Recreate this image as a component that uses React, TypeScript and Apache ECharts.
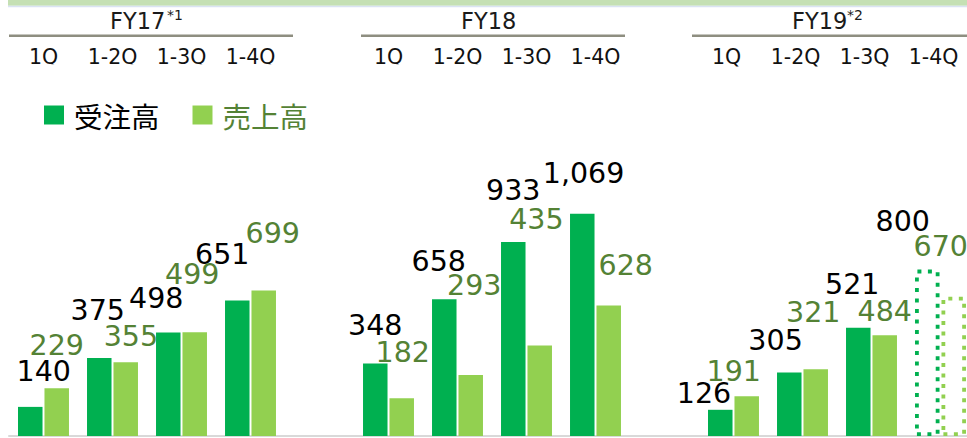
import React, { useEffect, useRef } from 'react';
import * as echarts from 'echarts';

// ---- data ----
const fiscalYears = ['FY17', 'FY18', 'FY19'];
const yearNotes = ['*1', '', '*2'];
const quarters = ['1Q', '1-2Q', '1-3Q', '1-4Q'];
const seriesNames = ['受注高', '売上高'];

const ordersFY17 = [140, 375, 498, 651];
const ordersFY18 = [348, 658, 933, 1069];
const ordersFY19 = [126, 305, 521, 800];
const salesFY17 = [229, 355, 499, 699];
const salesFY18 = [182, 293, 435, 628];
const salesFY19 = [191, 321, 484, 670];
// FY19 1-4Q values are forecasts (drawn dotted)
const forecastYearIndex = 2;
const forecastQuarterIndex = 3;

// ---- label placement (style only) ----
const orderLabelDx = [[13.5, -1.5, -12, -15], [0, -5.5, 0, 1.3], [-16.3, -13.7, -6, -24.5]];
const orderLabelRise = [[35.7, 48, 34.2, 46.3], [38.3, 37.2, 51, 40], [16, 31.7, 43.5, 48]];
const salesLabelDx = [[0, 5.2, -2.5, 9], [1, 3.5, -3.3, 17], [-13, -2.5, 0, -13]];
const salesLabelRise = [[43, 26, 57.7, 57], [45.7, 89.5, 126.3, 40.3], [24.5, 56.3, 23.7, 50.6]];

const DARK = '#00b050';
const LIGHT = '#92d050';
const OLIVE = '#548235';
const NUM_FONT = 'DejaVu Sans';
const LABEL_LH = 28;

function buildCategories() {
  const cats: string[] = [];
  fiscalYears.forEach((_, y) => {
    quarters.forEach((q) => cats.push(q));
    if (y < fiscalYears.length - 1) cats.push('');
  });
  return cats;
}

function buildTopCategories() {
  const cats: any[] = [];
  fiscalYears.forEach((_, y) => {
    quarters.forEach((q) => {
      if (y === 2) cats.push({ value: q, textStyle: { padding: [0, 14, 0, 0] } });
      else cats.push(q);
    });
    if (y < fiscalYears.length - 1) cats.push('');
  });
  return cats;
}

function buildSeriesData(
  years: number[][],
  dx: number[][],
  rise: number[][],
  color: string,
) {
  const out: any[] = [];
  years.forEach((vals, y) => {
    vals.forEach((v, q) => {
      const item: any = {
        value: v,
        label: { offset: [dx[y][q], -(rise[y][q] - LABEL_LH / 2)] },
      };
      if (y === forecastYearIndex && q === forecastQuarterIndex) {
        item.itemStyle = {
          color: 'rgba(255,255,255,0)',
          borderColor: color,
          borderWidth: 3.8,
          borderType: [4, 6.5],
        };
      }
      out.push(item);
    });
    if (y < years.length - 1) out.push('-');
  });
  return out;
}

export default function App() {
  const ref = useRef<HTMLDivElement>(null);

  useEffect(() => {
    if (!ref.current) return;
    const chart = echarts.init(ref.current, undefined, { renderer: 'svg' });
    const categories = buildCategories();

    const headerTexts: any[] = [];
    const headerLeft = [110, 461, 792];
    const noteLeft = [167, 0, 847];
    fiscalYears.forEach((fy, i) => {
      headerTexts.push({
        type: 'text',
        x: headerLeft[i],
        y: 21,
        style: {
          text: fy,
          fill: '#1a1a1a',
          fontSize: 22.5,
          fontFamily: NUM_FONT,
          align: 'left',
          verticalAlign: 'middle',
        },
      });
      if (yearNotes[i]) {
        headerTexts.push({
          type: 'text',
          x: noteLeft[i],
          y: 15,
          style: {
            text: yearNotes[i],
            fill: '#1a1a1a',
            fontSize: 14,
            fontFamily: NUM_FONT,
            align: 'left',
            verticalAlign: 'middle',
          },
        });
      }
    });

    const ruleColor = '#8e8e80';
    const numLabel = (color: string) => ({
      show: true,
      position: 'top',
      distance: 0,
      fontSize: 28.5,
      lineHeight: LABEL_LH,
      fontFamily: NUM_FONT,
      color,
      formatter: (p: any) => Number(p.value).toLocaleString('en-US'),
    });

    const option: any = {
      animation: false,
      backgroundColor: '#ffffff',
      grid: { left: 9, width: 966, top: 66, bottom: 2, containLabel: false },
      legend: {
        left: 44,
        top: 96,
        padding: 0,
        icon: 'rect',
        itemWidth: 20,
        itemHeight: 19,
        itemGap: 33,
        selectedMode: false,
        textStyle: {
          fontSize: 28.5,
          lineHeight: 28,
          fontFamily: 'Noto Sans CJK JP',
          padding: [0, 0, 10, 5],
        },
        data: [
          { name: seriesNames[0], textStyle: { color: '#000000' } },
          { name: seriesNames[1], textStyle: { color: OLIVE } },
        ],
      },
      xAxis: [
        {
          type: 'category',
          data: categories,
          position: 'bottom',
          offset: 1,
          axisLine: { show: true, lineStyle: { color: '#d9d9d9', width: 2 } },
          axisTick: { show: false },
          axisLabel: { show: false },
          splitLine: { show: false },
        },
        {
          type: 'category',
          data: buildTopCategories(),
          position: 'top',
          axisLine: { show: false },
          axisTick: { show: false },
          splitLine: { show: false },
          axisLabel: {
            show: true,
            interval: 0,
            margin: 0,
            fontSize: 20.5,
            lineHeight: 18,
            fontFamily: NUM_FONT,
            color: '#111111',
          },
        },
      ],
      yAxis: { type: 'value', min: 0, max: 1779, show: false, splitLine: { show: false } },
      series: [
        {
          name: seriesNames[0],
          type: 'bar',
          xAxisIndex: 0,
          barWidth: 24.5,
          barGap: '8%',
          itemStyle: { color: DARK },
          label: numLabel('#000000'),
          data: buildSeriesData([ordersFY17, ordersFY18, ordersFY19], orderLabelDx, orderLabelRise, DARK),
        },
        {
          name: seriesNames[1],
          type: 'bar',
          xAxisIndex: 0,
          barWidth: 24.5,
          barGap: '8%',
          itemStyle: { color: LIGHT },
          label: numLabel(OLIVE),
          data: buildSeriesData([salesFY17, salesFY18, salesFY19], salesLabelDx, salesLabelRise, LIGHT),
        },
      ],
      graphic: [
        { type: 'rect', z: 100, shape: { x: 8, y: 0, width: 992, height: 5.8 }, style: { fill: '#c5e0b4' } },
        { type: 'rect', z: 100, shape: { x: 8, y: 5.8, width: 992, height: 1.5 }, style: { fill: '#dae3f3' } },
        { type: 'rect', z: 100, shape: { x: 9, y: 34.5, width: 284, height: 2.5 }, style: { fill: ruleColor } },
        { type: 'rect', z: 100, shape: { x: 361, y: 34.5, width: 264, height: 2.5 }, style: { fill: ruleColor } },
        { type: 'rect', z: 100, shape: { x: 692, y: 34.5, width: 308, height: 2.5 }, style: { fill: ruleColor } },
        { type: 'rect', z: 100, shape: { x: 0, y: 64.3, width: 660, height: 5 }, style: { fill: '#ffffff' } },
        ...headerTexts,
      ],
    };
    chart.setOption(option);
    return () => chart.dispose();
  }, []);

  return (
    <div style={{ position: 'fixed', left: 0, top: 0, width: 967, height: 438, overflow: 'hidden', background: '#fff' }}>
      <div ref={ref} style={{ width: 1000, height: 438 }} />
    </div>
  );
}
